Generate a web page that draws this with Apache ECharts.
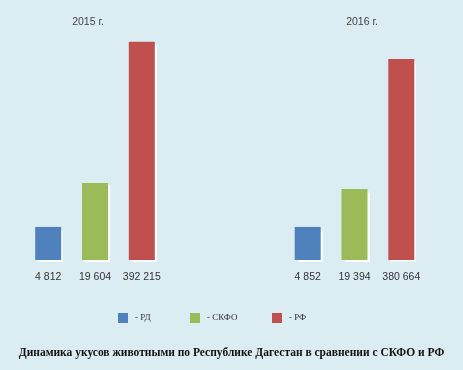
<!DOCTYPE html>
<html><head><meta charset="utf-8">
<script src="https://cdn.jsdelivr.net/npm/echarts@6/dist/echarts.min.js"></script>
<style>html,body{margin:0;padding:0;background:#dbedf3}#c{width:463px;height:370px}</style>
</head><body><div id="c"></div>
<script>
// Categories (years)
var years = ['2015 г.', '2016 г.'];
// Series names and legend labels
var seriesNames = ['РД', 'СКФО', 'РФ'];
// Actual values shown under the bars
var valuesRD = [4812, 4852];
var valuesSKFO = [19604, 19394];
var valuesRF = [392215, 380664];
// Bar heights as drawn in the picture (the picture is not to scale), % of plot height
var heightRD = [14.7, 14.7];
var heightSKFO = [34.2, 31.6];
var heightRF = [97, 89.3];
var colors = ['#4f81bd', '#9bbb59', '#c0504d'];

function fmt(v){ return String(v).replace(/\B(?=(\d{3})+(?!\d))/g, ' '); }

var heights = [heightRD, heightSKFO, heightRF];
var values = [valuesRD, valuesSKFO, valuesRF];
var legendLeft = [118, 190, 272];

var chart = echarts.init(document.getElementById('c'));
chart.setOption({
  backgroundColor: '#dbedf3',
  animation: false,
  title: {
    text: 'Динамика укусов животными по Республике Дагестан в сравнении с СКФО и РФ',
    left: 'center', top: 342,
    textStyle: { fontFamily: 'Liberation Serif', fontWeight: 'bold', fontSize: 11.5, color: '#111' }
  },
  legend: seriesNames.map(function(n, i){
    return {
      left: legendLeft[i] - 5, top: 308,
      itemWidth: 10, itemHeight: 10,
      icon: 'rect',
      data: [n],
      formatter: function(n){ return '- ' + n; },
      textStyle: { fontFamily: 'Liberation Serif', fontSize: 9, color: '#333', padding: [0,0,0,2] }
    };
  }),
  grid: { left: 95, right: 108.5, top: 35, bottom: 110, containLabel: false },
  xAxis: {
    type: 'category', data: years, position: 'top', boundaryGap: false,
    axisLine: { show: false }, axisTick: { show: false }, splitLine: { show: false },
    axisLabel: {
      color: '#444', fontSize: 10.5, fontFamily: 'Liberation Sans', margin: 7,
      formatter: function(v, idx){ return '{y' + idx + '|' + v + '}'; },
      rich: { y0: { padding: [0, 14, 0, 0] }, y1: { padding: [0, 0, 0, 15] } }
    }
  },
  yAxis: { type: 'value', min: 0, max: 100, show: false },
  series: seriesNames.map(function(n, i){
    return {
      name: n, type: 'bar', barWidth: 26, barGap: '80%', clip: false,
      data: heights[i],
      itemStyle: { color: colors[i], shadowColor: 'rgba(255,255,255,0.95)', shadowOffsetX: 2, shadowOffsetY: 2, shadowBlur: 1 },
      label: {
        show: true, position: 'bottom', distance: 12,
        color: '#333', fontSize: 10.5, fontFamily: 'Liberation Sans',
        formatter: function(p){ return fmt(values[i][p.dataIndex]); }
      }
    };
  })
});
</script></body></html>
